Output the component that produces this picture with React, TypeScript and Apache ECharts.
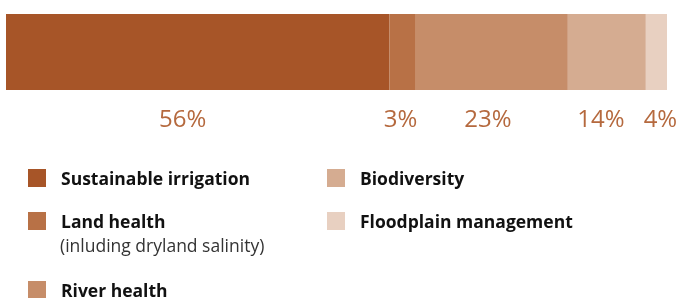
import React, { useEffect, useRef } from "react";
import * as echarts from "echarts";

const categories = ["Sustainable irrigation", "Land health", "River health", "Biodiversity", "Floodplain management"];
// bar segment widths as drawn in the picture (share of the bar)
const segmentValues = [58.0, 4.0, 23.0, 11.8, 3.2];
// printed percentage labels
const percentLabels = ["56%", "3%", "23%", "14%", "4%"];
const colors = ["#A75528", "#B87146", "#C68D69", "#D5AC91", "#E8D0C1"];
const labelOffsets = [-15, -2, -4, -6, 4];
const landHealthNote = "(inluding dryland salinity)";

export default function App() {
  const ref = useRef<HTMLDivElement>(null);
  useEffect(() => {
    if (!ref.current) return;
    const chart = echarts.init(ref.current, null, { renderer: "svg" });
    const total = segmentValues.reduce((a, b) => a + b, 0);
    const legendText = {
      fontFamily: "Open Sans",
      fontSize: 17.5,
      fontWeight: "bold" as const,
      color: "#111",
      lineHeight: 18,
      padding: [0, 0, 0, 10],
    };
    const legendBase = {
      orient: "vertical" as const,
      itemWidth: 18,
      itemHeight: 18,
      itemGap: 25,
      icon: "rect",
      textStyle: legendText,
      padding: 0,
    };
    chart.setOption({
      animation: false,
      grid: { left: 6, right: 14, top: 14, height: 76 },
      xAxis: { type: "value", min: 0, max: total, show: false },
      yAxis: { type: "category", data: ["share"], show: false },
      legend: [
        { ...legendBase, left: 28, top: 169, data: categories.slice(0, 2) },
        { ...legendBase, left: 28, top: 281, data: categories.slice(2, 3) },
        { ...legendBase, left: 327, top: 169, data: categories.slice(3, 5) },
      ],
      graphic: [
        {
          type: "text",
          left: 60,
          top: 236,
          style: {
            text: landHealthNote,
            fontFamily: "Open Sans",
            fontSize: 17.5,
            fill: "#333",
          },
        },
      ],
      series: categories.map((name, i) => ({
        name,
        type: "bar",
        stack: "total",
        barWidth: 76,
        data: [segmentValues[i]],
        itemStyle: { color: colors[i] },
        label: {
          show: true,
          position: "bottom",
          distance: 15,
          offset: [labelOffsets[i], 0],
          formatter: () => percentLabels[i],
          fontFamily: "Open Sans",
          fontSize: 24,
          color: "#B5693E",
        },
      })),
    });
    return () => chart.dispose();
  }, []);
  return <div ref={ref} style={{ position: "fixed", left: 0, top: 0, width: 681, height: 298 }} />;
}
